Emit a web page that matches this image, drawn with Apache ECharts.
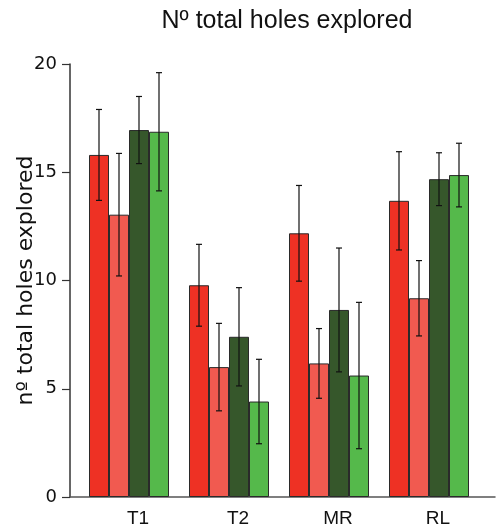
<!DOCTYPE html>
<html>
<head>
<meta charset="utf-8">
<script src="https://cdn.jsdelivr.net/npm/echarts@6/dist/echarts.min.js"></script>
<style>
  html, body { margin: 0; padding: 0; background: #fff; }
  #main { width: 502px; height: 531px; }
</style>
</head>
<body>
<div id="main"></div>
<script>
// data
var categories = ['T1', 'T2', 'MR', 'RL'];
var yTicks = [0, 5, 10, 15, 20];

var s1Mean = [15.8, 9.78, 12.18, 13.68];
var s1Err  = [2.1, 1.89, 2.21, 2.27];
var s2Mean = [13.04, 6.0, 6.17, 9.18];
var s2Err  = [2.83, 2.02, 1.61, 1.74];
var s3Mean = [16.95, 7.4, 8.64, 14.68];
var s3Err  = [1.55, 2.27, 2.86, 1.22];
var s4Mean = [16.87, 4.41, 5.61, 14.87];
var s4Err  = [2.73, 1.95, 3.38, 1.47];

var colors = ['#ee3124', '#f15a50', '#36572b', '#55b94b'];
var means = [s1Mean, s2Mean, s3Mean, s4Mean];
var errs = [s1Err, s2Err, s3Err, s4Err];

var chart = echarts.init(document.getElementById('main'));

var barW = 20;
var series = [];
means.forEach(function (m, i) {
    series.push({
        type: 'bar',
        name: 's' + (i + 1),
        xAxisIndex: 0, yAxisIndex: 0,
        data: m,
        barWidth: barW,
        barGap: '0%',
        itemStyle: { color: colors[i], borderColor: '#2a2a2a', borderWidth: 1 },
        z: 2
    });
});

// error bars
means.forEach(function (m, i) {
    var d = m.map(function (v, k) { return [k, v - errs[i][k], v + errs[i][k]]; });
    series.push({
        type: 'custom',
        xAxisIndex: 0, yAxisIndex: 0,
        z: 5,
        data: d,
        encode: { x: 0, y: [1, 2] },
        renderItem: function (params, api) {
            var c = api.value(0);
            var lo = api.coord([c, api.value(1)]);
            var hi = api.coord([c, api.value(2)]);
            var x = lo[0] + (i - 1.5) * barW;
            var cap = 3;
            var st = { stroke: '#111', lineWidth: 1.2 };
            return {
                type: 'group',
                children: [
                    { type: 'line', shape: { x1: x, y1: lo[1], x2: x, y2: hi[1] }, style: st },
                    { type: 'line', shape: { x1: x - cap, y1: lo[1], x2: x + cap, y2: lo[1] }, style: st },
                    { type: 'line', shape: { x1: x - cap, y1: hi[1], x2: x + cap, y2: hi[1] }, style: st }
                ]
            };
        }
    });
});

var option = {
    animation: false,
    title: {
        text: 'Nº total holes explored',
        left: 282, top: 4, textAlign: 'center',
        textStyle: { fontFamily: 'Liberation Sans', fontWeight: 'normal', fontSize: 25, color: '#111' }
    },
    grid: [
        { left: 79, right: 23, top: 64, bottom: 34 },
        { left: 70, right: 7, top: 64, bottom: 34 }
    ],
    xAxis: [
        {
            type: 'category', gridIndex: 0, data: categories,
            axisLine: { show: false }, axisTick: { show: false },
            axisLabel: { margin: 12, padding: [0, 0, 0, 18], fontFamily: 'Liberation Sans', fontSize: 19, color: '#111' }
        },
        {
            type: 'value', gridIndex: 1, min: 0, max: 1,
            axisLine: { show: true, lineStyle: { color: '#555', width: 1.5 } },
            axisTick: { show: false }, axisLabel: { show: false }, splitLine: { show: false }
        }
    ],
    yAxis: [
        {
            type: 'value', gridIndex: 0, min: 0, max: 20, interval: 5,
            show: false, splitLine: { show: false }
        },
        {
            type: 'value', gridIndex: 1, min: yTicks[0], max: yTicks[yTicks.length - 1], interval: 5,
            name: 'nº total holes explored', nameLocation: 'middle', nameGap: 33,
            nameMoveOverlap: false,
            nameTextStyle: { fontFamily: 'DejaVu Sans', fontSize: 22, color: '#111' },
            axisLine: { show: true, lineStyle: { color: '#333', width: 1.5 } },
            axisTick: { show: true, length: 8, lineStyle: { color: '#333', width: 1.2 } },
            axisLabel: { margin: 13, fontFamily: 'DejaVu Sans', fontSize: 18, color: '#111' },
            splitLine: { show: false }
        }
    ],
    series: series
};

chart.setOption(option);
</script>
</body>
</html>
